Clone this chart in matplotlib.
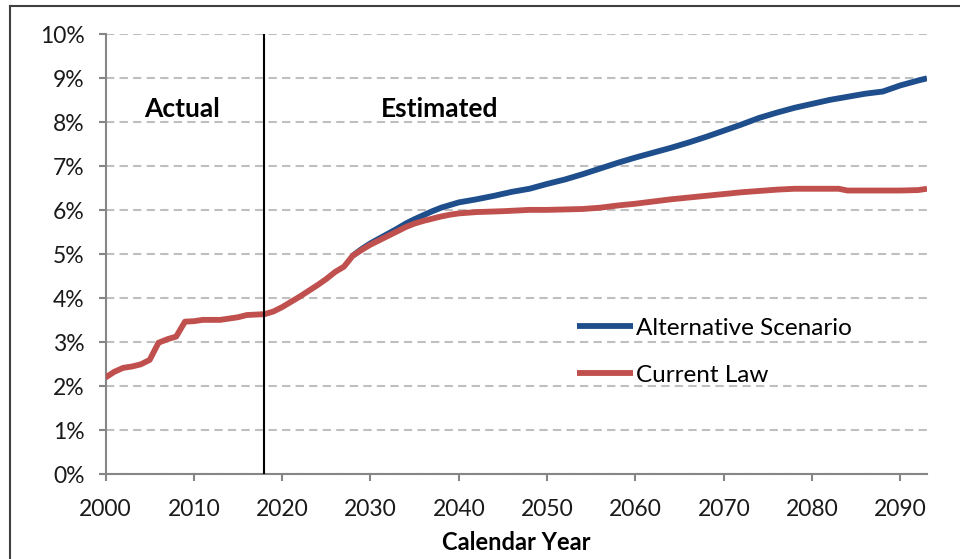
import matplotlib
matplotlib.use('Agg')
import matplotlib.pyplot as plt
from matplotlib.lines import Line2D
from matplotlib.ticker import FuncFormatter

plt.rcParams['font.family'] = ['Lato', 'DejaVu Sans']

# Current law (actual through 2018, estimated afterwards)
years_cl = [2000, 2001, 2002, 2003, 2004, 2005, 2006, 2007, 2008, 2009,
            2010, 2011, 2012, 2013, 2014, 2015, 2016, 2017, 2018, 2019,
            2020, 2021, 2022, 2023, 2024, 2025, 2026, 2027, 2028, 2029,
            2030, 2031, 2032, 2033, 2034, 2035, 2036, 2037, 2038, 2039,
            2040, 2042, 2045, 2048, 2050, 2052, 2054, 2056, 2058, 2060,
            2062, 2064, 2066, 2068, 2070, 2072, 2074, 2076, 2078, 2080,
            2083, 2084, 2087, 2090, 2092, 2093]
current_law = [2.20, 2.33, 2.42, 2.45, 2.50, 2.60, 2.99, 3.07, 3.13, 3.47,
               3.48, 3.51, 3.51, 3.51, 3.54, 3.57, 3.62, 3.63, 3.64, 3.70,
               3.80, 3.92, 4.04, 4.17, 4.30, 4.44, 4.60, 4.72, 4.97, 5.10,
               5.22, 5.32, 5.42, 5.52, 5.62, 5.70, 5.76, 5.81, 5.86, 5.90,
               5.93, 5.96, 5.98, 6.01, 6.01, 6.02, 6.03, 6.06, 6.11, 6.15,
               6.20, 6.25, 6.29, 6.33, 6.37, 6.41, 6.44, 6.47, 6.49, 6.49,
               6.49, 6.45, 6.45, 6.45, 6.46, 6.49]

# Alternative scenario (same as current law before 2028)
years_alt = [2028, 2029, 2030, 2031, 2032, 2033, 2034, 2035, 2036, 2037,
             2038, 2039, 2040, 2042, 2044, 2046, 2048, 2050, 2052, 2054,
             2056, 2058, 2060, 2062, 2064, 2066, 2068, 2070, 2072, 2074,
             2076, 2078, 2080, 2082, 2084, 2086, 2088, 2090, 2092, 2093]
alternative = [4.97, 5.12, 5.25, 5.36, 5.47, 5.58, 5.70, 5.80, 5.89, 5.98,
               6.06, 6.12, 6.18, 6.25, 6.33, 6.42, 6.49, 6.60, 6.70, 6.82,
               6.95, 7.08, 7.20, 7.31, 7.42, 7.54, 7.67, 7.81, 7.95, 8.10,
               8.22, 8.33, 8.42, 8.51, 8.58, 8.65, 8.70, 8.84, 8.95, 9.00]

split_year = 2018
blue = '#1F4E8C'
red = '#C0504D'

fig = plt.figure(figsize=(9.6, 5.59), dpi=100)
ax = fig.add_axes([0.1099, 0.1515, 0.9656 - 0.1099, 0.9386 - 0.1515])

ax.plot(years_alt, alternative, color=blue, lw=4.2, solid_capstyle='butt',
        label='Alternative Scenario', zorder=3)
ax.plot(years_cl, current_law, color=red, lw=4.2, solid_capstyle='butt',
        label='Current Law', zorder=4)
ax.axvline(split_year, color='black', lw=1.5, zorder=5)

ax.set_xlim(2000, 2093)
ax.set_ylim(0, 10)
ax.set_xticks(range(2000, 2091, 10))
ax.set_yticks(range(0, 11))
ax.yaxis.set_major_formatter(FuncFormatter(lambda v, p: '%d%%' % v))
ax.grid(axis='y', color='#BFBFBF', lw=1.5, linestyle=(0, (4, 2.5)), zorder=1)
ax.set_axisbelow(True)

for s in ['top', 'right']:
    ax.spines[s].set_visible(False)
for s in ['left', 'bottom']:
    ax.spines[s].set_color('#868686')
    ax.spines[s].set_linewidth(1.5)
ax.tick_params(axis='both', colors='#868686', width=1.5, length=5,
               labelsize=16.5, labelcolor='#1a1a1a')
ax.tick_params(axis='x', pad=13)
ax.tick_params(axis='y', pad=10)

ax.set_xlabel('Calendar Year', fontsize=17, fontweight='bold', labelpad=8)

ax.text(2008.7, 8.3, 'Actual', fontsize=19, fontweight='bold',
        ha='center', va='center')
ax.text(2037.8, 8.3, 'Estimated', fontsize=19, fontweight='bold',
        ha='center', va='center')

ax.legend(loc='upper left', bbox_to_anchor=(0.5735, 0.356), frameon=False,
          fontsize=17.5, handlelength=2.3, handletextpad=0.15, labelspacing=1.08,
          borderaxespad=0, borderpad=0)

# outer frame (left and top edges visible in the crop)
fig.add_artist(Line2D([10 / 960, 10 / 960], [0, 1 - 6 / 559],
                      transform=fig.transFigure, color='#404040', lw=1.5))
fig.add_artist(Line2D([10 / 960, 1], [1 - 6 / 559, 1 - 6 / 559],
                      transform=fig.transFigure, color='#404040', lw=1.5))

fig.savefig('out.png', dpi=100)
